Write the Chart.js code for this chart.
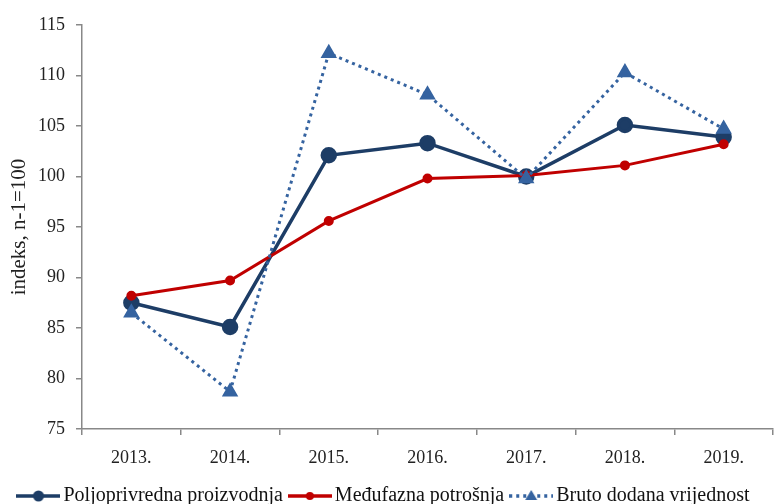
<!DOCTYPE html>
<html><head><meta charset="utf-8">
<script src="https://cdn.jsdelivr.net/npm/chart.js@4"></script>
<style>html,body{margin:0;padding:0;background:#fff}#wrap{width:774px;height:504px}</style>
</head><body><div id="wrap"><canvas id="c" width="774" height="504"></canvas></div>
<script>
const categories = ['2013.', '2014.', '2015.', '2016.', '2017.', '2018.', '2019.'];
const poljoprivrednaProizvodnja = [87.5, 85.1, 102.1, 103.3, 100.0, 105.1, 103.9];
const medufaznaPotrosnja = [88.2, 89.7, 95.6, 99.8, 100.1, 101.1, 103.2];
const brutoDodanaVrijednost = [86.5, 78.7, 112.2, 108.1, 99.8, 110.3, 104.7];
const seriesNames = ['Poljoprivredna proizvodnja', 'Međufazna potrošnja', 'Bruto dodana vrijednost'];
const yTicks = [75, 80, 85, 90, 95, 100, 105, 110, 115];

const NAVY = '#1d3d66', RED = '#c00000', BLUE = '#3563a0';
const FONT = '"Liberation Serif", "DejaVu Serif", serif';

function legendIcon(color, marker, dashed) {
  const cv = document.createElement('canvas');
  cv.width = 44; cv.height = 16;
  const g = cv.getContext('2d');
  g.strokeStyle = color; g.fillStyle = color;
  g.lineWidth = 3.5;
  if (dashed) g.setLineDash([3, 4]);
  g.beginPath(); g.moveTo(0, 8); g.lineTo(44, 8); g.stroke();
  g.setLineDash([]);
  if (marker === 'circle') { g.beginPath(); g.arc(22, 8, 5.5, 0, Math.PI * 2); g.fill(); }
  else if (marker === 'small') { g.beginPath(); g.arc(22, 8, 4, 0, Math.PI * 2); g.fill(); }
  else { g.beginPath(); g.moveTo(22, 2); g.lineTo(28, 12); g.lineTo(16, 12); g.closePath(); g.fill(); }
  return cv;
}
const icons = [legendIcon(NAVY, 'circle', false), legendIcon(RED, 'small', false), legendIcon(BLUE, 'tri', true)];

new Chart(document.getElementById('c'), {
  type: 'line',
  data: {
    labels: categories,
    datasets: [
      { label: seriesNames[0], data: poljoprivrednaProizvodnja, borderColor: NAVY, backgroundColor: NAVY,
        borderWidth: 3.5, pointRadius: 6.5, pointStyle: 'circle', order: 2, tension: 0 },
      { label: seriesNames[1], data: medufaznaPotrosnja, borderColor: RED, backgroundColor: RED,
        borderWidth: 3, pointRadius: 3.5, pointStyle: 'circle', order: 1, tension: 0 },
      { label: seriesNames[2], data: brutoDodanaVrijednost, borderColor: BLUE, backgroundColor: BLUE,
        borderWidth: 3, borderDash: [3, 4], pointRadius: 6.5, pointStyle: 'triangle', order: 0, tension: 0 }
    ]
  },
  options: {
    responsive: false, animation: false, devicePixelRatio: 1,
    layout: { autoPadding: false, padding: { left: 0, right: 1, top: 25, bottom: -12 } },
    plugins: {
      tooltip: { enabled: false },
      legend: {
        position: 'bottom',
        labels: {
          usePointStyle: true, pointStyleWidth: 30, boxHeight: 16, padding: 12,
          color: '#111', font: { family: FONT, size: 20 },
          generateLabels: (chart) => chart.data.datasets.map((d, i) => ({
            text: d.label, pointStyle: icons[i], fillStyle: d.borderColor, strokeStyle: d.borderColor,
            lineWidth: 0, hidden: false, datasetIndex: i, fontColor: '#111'
          }))
        }
      }
    },
    scales: {
      x: {
        offset: true,
        grid: { offset: true, drawOnChartArea: false, drawTicks: true, tickLength: 6, color: '#888', lineWidth: 1.5 },
        border: { color: '#888', width: 1.5 },
        ticks: { color: '#222', font: { family: FONT, size: 18 }, padding: 12 },
        afterFit: (s) => { s.height = 45; s.paddingRight = 0; s.paddingLeft = 0; }
      },
      y: {
        min: 75, max: 115,
        afterBuildTicks: (s) => { s.ticks = yTicks.map(v => ({ value: v })); },
        grid: { drawOnChartArea: false, drawTicks: true, tickLength: 6, color: '#888', lineWidth: 1.5 },
        border: { color: '#888', width: 1.5 },
        ticks: { color: '#222', font: { family: FONT, size: 18 }, padding: 11 },
        title: { display: true, text: 'indeks, n-1=100', color: '#222', font: { family: FONT, size: 21 }, padding: { top: 7, bottom: 4 } },
        afterFit: (s) => { s.width = 82; }
      }
    }
  }
});
</script>
</body></html>
